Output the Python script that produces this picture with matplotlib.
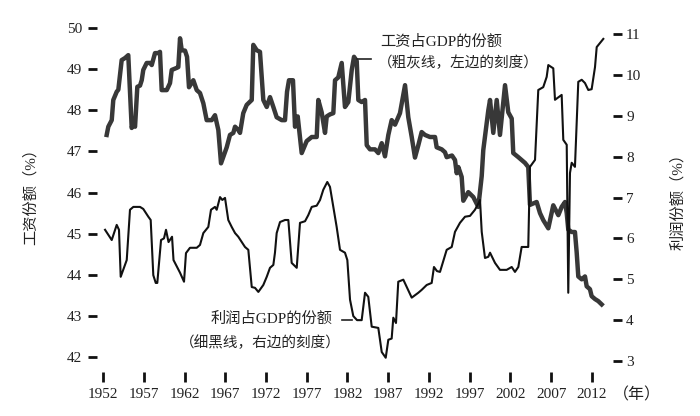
import matplotlib
matplotlib.use("Agg")
import matplotlib.pyplot as plt

plt.rcParams["font.family"] = ["Liberation Serif", "Noto Sans CJK SC", "DejaVu Sans"]

# wage share of GDP (left scale, %)
wage_years = [
    1952.45, 1952.65, 1953.07, 1953.26, 1953.68, 1953.88, 1954.29, 1954.70, 1955.10, 1955.52,
    1955.72, 1955.93, 1956.21, 1956.54, 1956.75, 1956.94, 1957.36, 1957.77, 1957.98, 1958.38,
    1958.79, 1958.99, 1959.20, 1959.82, 1960.22, 1960.43, 1961.04, 1961.24, 1961.45, 1961.66,
    1962.06, 1962.31, 1962.55, 1963.08, 1963.50, 1963.90, 1964.31, 1964.72, 1965.34, 1965.74,
    1966.15, 1966.48, 1967.18, 1967.58, 1967.99, 1968.20, 1968.60, 1968.81, 1969.21, 1969.63,
    1970.25, 1970.44, 1970.86, 1971.26, 1971.67, 1972.09, 1972.49, 1972.90, 1973.31, 1973.93,
    1974.33, 1974.58, 1974.82, 1975.31, 1975.56, 1975.89, 1976.38, 1976.99, 1977.61, 1978.22,
    1978.42, 1978.83, 1979.24, 1979.45, 1979.85, 1980.26, 1980.47, 1980.87, 1981.29, 1981.69,
    1982.10, 1982.52, 1982.80, 1983.13, 1983.33, 1983.74, 1984.15, 1984.36, 1984.76, 1985.37,
    1985.78, 1986.20, 1986.60, 1987.01, 1987.42, 1987.83, 1988.44, 1989.06, 1989.46, 1989.88,
    1990.28, 1990.69, 1991.10, 1991.51, 1992.12, 1992.74, 1992.94, 1993.56, 1993.96, 1994.17,
    1994.82, 1995.19, 1995.40, 1995.60, 1996.01, 1996.21, 1996.82, 1997.44, 1998.05, 1998.47,
    1998.66, 1999.28, 1999.49, 1999.89, 2000.31, 2000.71, 2001.33, 2001.73, 2002.15, 2002.34,
    2002.96, 2003.37, 2003.78, 2004.18, 2004.39, 2005.21, 2005.62, 2006.02, 2006.64, 2007.25,
    2007.87, 2008.28, 2008.69, 2008.90, 2009.09, 2009.51, 2009.91, 2010.12, 2010.32, 2010.74,
    2011.14, 2011.35, 2011.75, 2011.96, 2012.37, 2012.77, 2013.19,
]
wage_share = [
    47.40, 47.60, 47.76, 48.25, 48.45, 48.50, 49.22, 49.27, 49.34, 47.57,
    47.69, 47.60, 48.57, 48.60, 48.73, 48.98, 49.15, 49.15, 49.10, 49.39,
    49.39, 49.42, 48.49, 48.49, 48.66, 48.98, 49.03, 49.05, 49.75, 49.46,
    49.45, 49.30, 48.56, 48.73, 48.49, 48.42, 48.17, 47.76, 47.76, 47.88,
    47.52, 46.71, 47.10, 47.40, 47.45, 47.60, 47.52, 47.45, 47.93, 48.13,
    48.25, 49.59, 49.46, 49.42, 48.25, 48.08, 48.32, 48.08, 47.83, 47.76,
    47.76, 48.45, 48.73, 48.73, 47.60, 47.85, 46.96, 47.25, 47.35, 47.35,
    48.25, 47.95, 47.45, 47.85, 47.90, 47.93, 48.73, 48.80, 49.15, 48.08,
    48.20, 48.98, 49.30, 49.20, 48.25, 48.20, 48.25, 47.15, 47.05, 47.05,
    46.96, 47.20, 46.88, 47.40, 47.76, 47.65, 47.93, 48.61, 47.83, 47.35,
    46.85, 47.15, 47.47, 47.40, 47.35, 47.35, 47.10, 47.05, 46.98, 46.86,
    46.90, 46.79, 46.47, 46.62, 46.38, 45.80, 46.01, 45.89, 45.65, 46.40,
    47.03, 48.00, 48.25, 47.45, 48.25, 47.40, 48.61, 47.95, 47.80, 46.96,
    46.86, 46.79, 46.72, 46.62, 45.70, 45.77, 45.50, 45.33, 45.13, 45.69,
    45.45, 45.65, 45.77, 45.50, 45.10, 45.04, 45.04, 44.55, 43.96, 43.89,
    43.96, 43.72, 43.65, 43.48, 43.41, 43.36, 43.28,
]

# profit share of GDP (right scale, %)
profit_years = [
    1952.25, 1953.07, 1953.68, 1953.96, 1954.17, 1954.91, 1955.31, 1955.72, 1956.54, 1956.94,
    1957.56, 1957.85, 1958.17, 1958.47, 1958.66, 1959.12, 1959.48, 1959.73, 1960.04, 1960.47,
    1960.65, 1961.45, 1961.94, 1962.18, 1962.67, 1963.50, 1963.90, 1964.31, 1964.92, 1965.25,
    1965.74, 1965.95, 1966.36, 1966.64, 1966.97, 1967.37, 1967.79, 1968.20, 1968.60, 1969.02,
    1969.42, 1969.83, 1970.25, 1970.65, 1971.06, 1971.67, 1972.09, 1972.49, 1972.90, 1973.10,
    1973.31, 1973.72, 1974.33, 1974.74, 1975.15, 1975.77, 1976.17, 1976.79, 1977.19, 1977.61,
    1978.22, 1978.63, 1979.03, 1979.52, 1979.85, 1980.26, 1980.67, 1981.08, 1981.69, 1981.98,
    1982.31, 1982.71, 1983.17, 1983.74, 1984.15, 1984.55, 1984.97, 1985.78, 1986.20, 1986.69,
    1987.01, 1987.42, 1987.62, 1987.95, 1988.23, 1988.85, 1989.88, 1990.69, 1991.10, 1991.72,
    1992.33, 1992.61, 1992.98, 1993.35, 1994.17, 1994.79, 1995.19, 1995.80, 1996.42, 1997.03,
    1997.64, 1998.05, 1998.26, 1998.47, 1998.87, 1999.28, 1999.49, 2000.10, 2000.71, 2001.53,
    2002.15, 2002.55, 2002.96, 2003.37, 2003.99, 2004.18, 2004.39, 2005.01, 2005.41, 2006.02,
    2006.44, 2006.64, 2007.25, 2007.46, 2007.87, 2008.28, 2008.48, 2008.90, 2009.09, 2009.30,
    2009.51, 2009.91, 2010.32, 2010.74, 2011.14, 2011.55, 2011.96, 2012.37, 2012.58, 2012.98,
    2013.39,
]
profit_share = [
    6.21, 5.96, 6.33, 6.21, 5.06, 5.47, 6.70, 6.77, 6.77, 6.72,
    6.53, 6.45, 5.10, 4.91, 4.91, 5.96, 6.00, 6.21, 5.91, 6.04,
    5.47, 5.16, 4.94, 5.64, 5.77, 5.77, 5.84, 6.13, 6.28, 6.70,
    6.77, 6.70, 7.01, 6.94, 6.99, 6.45, 6.28, 6.13, 6.04, 5.91,
    5.79, 5.72, 4.81, 4.79, 4.69, 4.86, 5.06, 5.28, 5.35, 5.65,
    6.13, 6.40, 6.45, 6.45, 5.40, 5.28, 6.38, 6.42, 6.57, 6.77,
    6.80, 6.94, 7.19, 7.38, 7.26, 6.77, 6.28, 5.72, 5.65, 5.47,
    4.50, 4.10, 4.00, 4.00, 4.67, 4.57, 3.84, 3.81, 3.22, 3.08,
    3.52, 3.55, 4.06, 3.93, 4.94, 4.99, 4.55, 4.67, 4.74, 4.86,
    4.91, 5.30, 5.20, 5.18, 5.72, 5.79, 6.16, 6.38, 6.53, 6.55,
    6.70, 6.85, 6.94, 6.16, 5.52, 5.55, 5.65, 5.40, 5.23, 5.23,
    5.30, 5.18, 5.30, 5.79, 5.79, 5.79, 7.75, 7.92, 9.63, 9.70,
    9.95, 10.24, 10.16, 9.39, 9.45, 9.51, 8.41, 8.29, 4.67, 7.60,
    7.85, 7.75, 9.83, 9.88, 9.80, 9.63, 9.65, 10.19, 10.68, 10.78,
    10.88,
]

year_ticks = list(range(1952, 2013, 5))
wage_ticks = list(range(42, 51))
profit_ticks = list(range(3, 12))

W, H = 700, 416
fig = plt.figure(figsize=(7.0, 4.16), dpi=100)
ax = fig.add_axes([100 / W, 1 - 362 / H, 506 / W, 337 / H])
ax2 = ax.twinx()

ax.plot(wage_years, wage_share, color="#383838", lw=3.2, solid_joinstyle="round", zorder=2)
ax2.plot(profit_years, profit_share, color="#111111", lw=1.5, solid_joinstyle="round", zorder=3)

ax.set_xlim(1951.63, 2013.72)
ax.set_ylim(41.88, 50.073)
ax2.set_ylim(2.976, 11.22)

for a in (ax, ax2):
    for s in a.spines.values():
        s.set_visible(False)

ax.spines["left"].set_position(("outward", 2.2))
ax.spines["bottom"].set_position(("outward", 7.2))
ax2.spines["right"].set_position(("outward", 5.0))

ax.set_xticks(year_ticks)
ax.set_yticks(wage_ticks)
ax2.set_yticks(profit_ticks)

tick_col = "#111111"
ax.tick_params(axis="y", which="major", left=True, right=False, direction="out",
               length=6.5, width=2.0, pad=4.3, labelsize=11, color=tick_col, labelcolor="#222222")
ax.tick_params(axis="x", which="major", bottom=True, top=False, direction="out",
               length=7.2, width=2.0, pad=4.5, labelsize=11, color=tick_col, labelcolor="#222222")
ax2.tick_params(axis="y", which="major", left=False, right=True, direction="out",
                length=6.5, width=2.0, pad=3.0, labelsize=11, color=tick_col, labelcolor="#222222")
ax2.tick_params(axis="x", bottom=False, top=False, labelbottom=False)

cjk = ["Liberation Serif", "Noto Sans CJK SC", "DejaVu Sans"]
txt_col = "#222222"

def ftext(px, py, s, size, **kw):
    fig.text(px / W, 1 - py / H, s, fontsize=size, family=cjk, color=txt_col, **kw)

ftext(30, 193, "工资份额（%）", 11, rotation=90, ha="center", va="center")
ftext(678, 198, "利润份额（%）", 11, rotation=90, ha="center", va="center")
ftext(637, 395, "（年）", 11.5, ha="center", va="center")

ftext(441, 42, "工资占GDP的份额", 11, ha="center", va="center")
ftext(458, 63, "（粗灰线，左边的刻度）", 10.5, ha="center", va="center")
ftext(272, 319, "利润占GDP的份额", 11, ha="center", va="center")
ftext(260, 343, "（细黑线，右边的刻度）", 10.5, ha="center", va="center")

# short leader dashes from the labels to the lines
fig.add_artist(plt.Line2D([357 / W, 371 / W], [1 - 59 / H, 1 - 59 / H], color=txt_col, lw=1.2))
fig.add_artist(plt.Line2D([342 / W, 352 / W], [1 - 320 / H, 1 - 320 / H], color=txt_col, lw=1.2))

fig.savefig("out.png", dpi=100)
